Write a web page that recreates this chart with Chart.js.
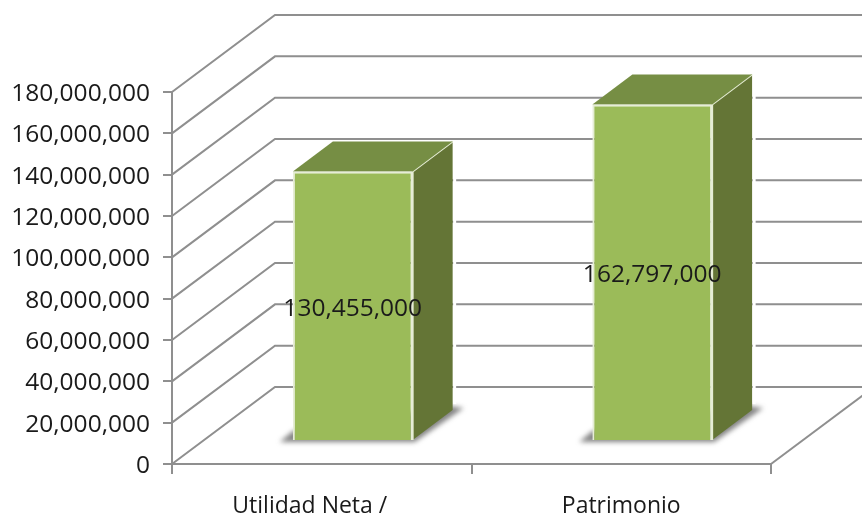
<!DOCTYPE html>
<html>
<head>
<meta charset="utf-8">
<title>Utilidad Neta / Patrimonio</title>
<script src="https://cdn.jsdelivr.net/npm/chart.js@4"></script>
<style>
  html, body { margin: 0; background: #ffffff; }
  canvas { display: block; }
</style>
</head>
<body>
<canvas id="chart3d" width="862" height="518"></canvas>
<script>
const categories = ["Utilidad Neta /    ", "Patrimonio"];
const values = [130455000, 162797000];
const tickStep = 20000000;
const axisMax = 180000000;

// depth of the box: whole wall, and the single bar
const wallDepth = { x: 103, y: -77 };
const barDepth = { x: 40, y: -30 };
const barShift = { x: 31, y: -23 };

const gridColor = "#8f8f8f";
const frontColor = "#9bbb59";
const topColor = "#768e44";
const sideColor = "#647536";
const edgeColor = "#e6edd6";
const labelFont = "'Open Sans', sans-serif";

function poly(ctx, pts) {
  ctx.beginPath();
  pts.forEach((p, i) => i ? ctx.lineTo(p[0], p[1]) : ctx.moveTo(p[0], p[1]));
  ctx.closePath();
}

// Left wall and back wall lines
const wallPlugin = {
  id: "wall",
  beforeDatasetsDraw(chart) {
    const ctx = chart.ctx;
    const y = chart.scales.y;
    const { left, right } = chart.chartArea;
    ctx.save();
    ctx.strokeStyle = gridColor;
    ctx.lineWidth = 2;
    y.ticks.forEach(t => {
      const py = y.getPixelForValue(t.value);
      ctx.beginPath();
      ctx.moveTo(left, py);
      ctx.lineTo(left + wallDepth.x, py + wallDepth.y);
      ctx.lineTo(right + wallDepth.x, py + wallDepth.y);
      ctx.stroke();
    });
    const y0 = y.getPixelForValue(0);
    ctx.beginPath();
    ctx.moveTo(right, y0);
    ctx.lineTo(right + wallDepth.x, y0 + wallDepth.y);
    ctx.stroke();
    ctx.restore();
  }
};

// Shadow, top and side of each box; the library draws the front face itself
const boxPlugin = {
  id: "box",
  beforeDatasetDraw(chart, args) {
    const ctx = chart.ctx;
    const bars = chart.getDatasetMeta(args.index).data;
    bars.forEach(bar => {
      const x1 = bar.x - bar.width / 2 + barShift.x;
      const x2 = bar.x + bar.width / 2 + barShift.x;
      const yTop = bar.y + barShift.y;
      const yBase = bar.base + barShift.y;
      const d = barDepth;

      ctx.save();
      ctx.filter = "blur(2.5px)";
      ctx.fillStyle = "rgba(80,80,80,0.7)";
      poly(ctx, [[x1 - 13, yBase + 2], [x2 + 2, yBase + 2], [x2 + d.x + 11, yBase + d.y - 2], [x2 + d.x - 4, yBase + d.y - 4], [x1, yBase - 9]]);
      ctx.fill();
      ctx.restore();

      ctx.save();
      ctx.lineWidth = 2;
      ctx.strokeStyle = edgeColor;
      ctx.lineJoin = "round";
      ctx.fillStyle = sideColor;
      poly(ctx, [[x2, yTop], [x2 + d.x, yTop + d.y], [x2 + d.x, yBase + d.y], [x2, yBase]]);
      ctx.fill();
      ctx.beginPath();
      ctx.moveTo(x2 + d.x, yTop + d.y);
      ctx.lineTo(x2, yTop);
      ctx.lineTo(x2, yBase);
      ctx.stroke();
      ctx.strokeStyle = "#ffffff";
      ctx.lineWidth = 3;
      ctx.beginPath();
      ctx.moveTo(x2 + d.x + 2, yTop + d.y);
      ctx.lineTo(x2 + d.x + 2, yBase + d.y - 6);
      ctx.stroke();
      ctx.fillStyle = topColor;
      poly(ctx, [[x1, yTop], [x1 + d.x, yTop + d.y], [x2 + d.x, yTop + d.y], [x2, yTop]]);
      ctx.fill();
      ctx.restore();
    });
    // front face is offset into the room
    ctx.save();
    ctx.translate(barShift.x, barShift.y);
  },
  afterDatasetDraw(chart) {
    chart.ctx.restore();
  },
  afterDatasetsDraw(chart) {
    const ctx = chart.ctx;
    const bars = chart.getDatasetMeta(0).data;
    ctx.save();
    ctx.font = "24.5px " + labelFont;
    ctx.fillStyle = "#1a1a1a";
    ctx.textAlign = "center";
    ctx.textBaseline = "middle";
    bars.forEach((bar, i) => {
      const cy = (bar.y + bar.base) / 2 + barShift.y + 3;
      ctx.fillText(values[i].toLocaleString("en-US"), bar.x + barShift.x, cy);
    });
    ctx.restore();
  }
};

new Chart(document.getElementById("chart3d").getContext("2d"), {
  type: "bar",
  data: {
    labels: categories,
    datasets: [{
      data: values,
      backgroundColor: frontColor,
      borderColor: edgeColor,
      borderWidth: 2,
      barPercentage: 1,
      categoryPercentage: 0.4,
      clip: false
    }]
  },
  options: {
    responsive: false,
    animation: false,
    layout: { padding: { top: 92, right: 91, left: 0, bottom: 0 } },
    plugins: { legend: { display: false }, tooltip: { enabled: false } },
    scales: {
      y: {
        min: 0,
        max: axisMax,
        afterFit(scale) { scale.width = 172; scale.paddingTop = 0; scale.paddingBottom = 0; },
        border: { color: gridColor, width: 2 },
        grid: { drawOnChartArea: false, drawTicks: true, tickLength: 9, color: gridColor, lineWidth: 2 },
        ticks: {
          stepSize: tickStep,
          padding: 13,
          labelOffset: 2,
          color: "#1a1a1a",
          font: { family: labelFont, size: 24.5 },
          callback: v => v.toLocaleString("en-US")
        }
      },
      x: {
        afterFit(scale) { scale.height = 54; scale.paddingLeft = 0; scale.paddingRight = 0; },
        border: { color: gridColor, width: 2 },
        grid: { drawOnChartArea: false, drawTicks: true, tickLength: 10, color: gridColor, lineWidth: 2 },
        ticks: {
          padding: 19,
          maxRotation: 0,
          autoSkip: false,
          color: "#1a1a1a",
          font: { family: labelFont, size: 23 }
        }
      }
    }
  },
  plugins: [wallPlugin, boxPlugin]
});
</script>
</body>
</html>
